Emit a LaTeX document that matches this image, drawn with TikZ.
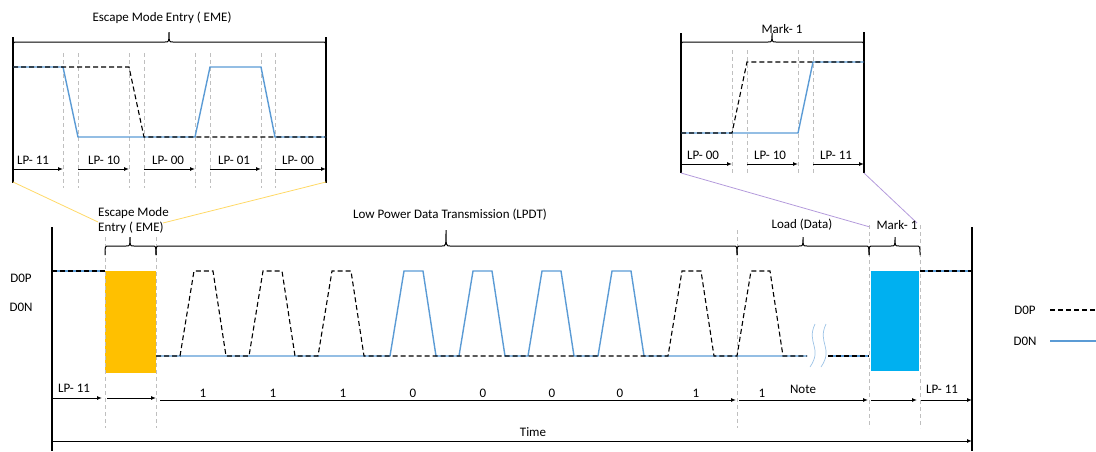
\documentclass[tikz,border=0pt]{standalone}
\usepackage{fontspec}
\setmainfont{Carlito}
\usetikzlibrary{arrows.meta}
\definecolor{sigblue}{HTML}{5B9BD5}
\definecolor{emeor}{HTML}{FFC000}
\definecolor{markcy}{HTML}{00B0F0}
\definecolor{guidec}{HTML}{BFBFBF}
\definecolor{yelc}{HTML}{FFD966}
\definecolor{purc}{HTML}{B49BDC}
\definecolor{brkc}{HTML}{9DC3E6}
\newcommand\mybrace[5]{% x0 x1 y xc ytip
  \draw[brc] (#1,#3+9) .. controls (#1,#3) .. (#1+4,#3) -- (#4-4,#3)
    .. controls (#4,#3) .. (#4,#5) .. controls (#4,#3) .. (#4+4,#3)
    -- (#2-4,#3) .. controls (#2,#3) .. (#2,#3+9);}
\begin{document}
\begin{tikzpicture}[x=1pt,y=-1pt,
  font=\fontsize{13}{15}\selectfont,
  dp/.style={black, dash pattern=on 5pt off 3pt, line width=1.1pt},
  dn/.style={sigblue, line width=1.4pt},
  guide/.style={guidec, dash pattern=on 4pt off 3pt, line width=0.7pt},
  brc/.style={black, line width=1pt},
  axisl/.style={black, line width=1.3pt},
  arr/.style={black, line width=1pt, -{Latex[length=5pt,width=4pt]}},
  lbl/.style={inner sep=0pt},
  zoomline/.style={line width=0.8pt}]
\useasboundingbox (0,0) rectangle (1096,451);

% ================= EME inset =================
\foreach \x in {63,78,129,144,195,210,261,275} \draw[guide] (\x,53) -- (\x,188);
\draw[axisl] (13,37) -- (13,183);
\draw[axisl] (326,37) -- (326,183);
\mybrace{13}{326}{42}{169}{32}
\node[lbl] (emetitle) at (162,18) {Escape Mode Entry ( EME)};
\draw[dn] (13,67) -- (63,67) -- (78,137) -- (195,137) -- (210,67) -- (261,67) -- (275,137) -- (326,137);
\draw[dp] (13,67) -- (129,67) -- (144,137) -- (326,137);
\draw[arr] (13,169) -- (63,169);
\draw[arr] (78,169) -- (129,169);
\draw[arr] (144,169) -- (195,169);
\draw[arr] (210,169) -- (261,169);
\draw[arr] (275,169) -- (326,169);
\node[lbl] (e1) at (33,160) {LP- 11};
\node[lbl] (e2) at (104,160) {LP- 10};
\node[lbl] (e3) at (168,160) {LP- 00};
\node[lbl] (e4) at (234,160) {LP- 01};
\node[lbl] (e5) at (298,160) {LP- 00};

% ================= Mark-1 inset =================
\foreach \x in {732,747,798,813} \draw[guide] (\x,50) -- (\x,175);
\draw[axisl] (681,33) -- (681,173);
\draw[axisl] (864,32) -- (864,173);
\mybrace{681}{864}{42}{772}{33}
\node[lbl] (mktitle) at (782,29) {Mark- 1};
\draw[dn] (681,133) -- (798,133) -- (813,62) -- (864,62);
\draw[dp] (681,133) -- (732,133) -- (747,62) -- (864,62);
\draw[arr] (681,164) -- (732,164);
\draw[arr] (747,164) -- (798,164);
\draw[arr] (813,164) -- (864,164);
\node[lbl] (m1) at (703,155) {LP- 00};
\node[lbl] (m2) at (770,155) {LP- 10};
\node[lbl] (m3) at (836,155) {LP- 11};

% ================= zoom connectors =================
\draw[zoomline, yelc] (13,182) -- (98,222);
\draw[zoomline, yelc] (326,182) -- (163,223);
\draw[zoomline, purc] (681,173) -- (870,227);
\draw[zoomline, purc] (864,173) -- (917,223);

% ================= main diagram =================
\fill[emeor] (105,271) rectangle (156,373);
\fill[markcy] (871,271) rectangle (919,371);
\foreach \x/\t in {105/237,156/237,737/230,869/225,920/225} \draw[guide] (\x,\t) -- (\x,428);
\draw[axisl] (52,227) -- (52,451);
\draw[axisl] (972,227) -- (972,451);

\mybrace{105}{156}{246}{130}{237}
\mybrace{156}{737}{246}{446}{230}
\mybrace{737}{869}{246}{803}{237}
\mybrace{869}{920}{246}{895}{237}

\node[lbl, anchor=west, align=left] (emelab) at (98,221) {Escape Mode\\Entry ( EME)};
\node[lbl] (lpdt) at (450,215) {Low Power Data Transmission (LPDT)};
\node[lbl] (load) at (802,225) {Load (Data)};
\node[lbl] (mark) at (897,225) {Mark- 1};
\node[lbl] (d0p) at (21,278) {D0P};
\node[lbl] (d0n) at (21,307) {D0N};

% signals
\draw[dn] (52,271) -- (105,271);
\draw[dp] (52,271) -- (105,271);
\draw[dn] (920,271) -- (972,271);
\draw[dp] (920,271) -- (972,271);
\draw[dn] (156,356) -- (390,356) -- (404,271) -- (423,271) -- (436,356)
  -- (459,356) -- (473,271) -- (492,271) -- (505,356)
  -- (528,356) -- (542,271) -- (561,271) -- (574,356)
  -- (598,356) -- (612,271) -- (631,271) -- (644,356) -- (807,356);
\draw[dp] (156,356) -- (180,356) -- (194,271) -- (213,271) -- (226,356)
  -- (249,356) -- (263,271) -- (282,271) -- (295,356)
  -- (318,356) -- (332,271) -- (351,271) -- (364,356)
  -- (668,356) -- (682,271) -- (701,271) -- (714,356)
  -- (737,356) -- (751,271) -- (770,271) -- (783,356) -- (807,356);
\draw[dn] (828,356) -- (869,356);
\draw[dp] (828,356) -- (869,356);
\draw[brkc, line width=0.7pt] (815,324) .. controls (806,343) and (823,348) .. (810,367);
\draw[brkc, line width=0.7pt] (826,324) .. controls (817,343) and (834,348) .. (821,367);

% bottom time arrows
\draw[arr] (52,398) -- (102,398);
\draw[arr] (107,398) -- (156,398);
\draw[arr] (160,400) -- (736,400);
\draw[arr] (739,400) -- (868,400);
\draw[arr] (871,400) -- (917,400);
\draw[arr] (921,400) -- (972,400);
\node[lbl] (b0) at (74,388) {LP- 11};
\foreach \x/\v [count=\i] in {203/1,273/1,343/1,413/0,483/0,552/0,620/0,696/1,762/1}
  \node[lbl] (bit\i) at (\x,393) {\v};
\node[lbl] (note) at (803,389) {Note};
\node[lbl] (b1) at (942,389) {LP- 11};
\draw[arr] (52,441) -- (972,441);
\node[lbl] (time) at (533,432) {Time};

% legend
\node[lbl] (lgp) at (1025,310) {D0P};
\draw[dp] (1050,310) -- (1096,310);
\node[lbl] (lgn) at (1025,341) {D0N};
\draw[dn] (1050,341) -- (1096,341);
\end{tikzpicture}
\end{document}
